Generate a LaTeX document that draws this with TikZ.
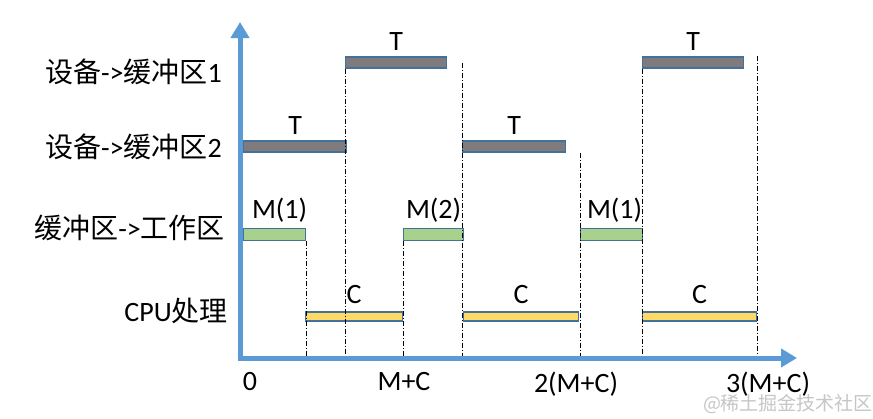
\documentclass[tikz,border=0pt]{standalone}
\usepackage{fontspec}
\setmainfont{Carlito}
\newfontfamily\cjk{Noto Sans CJK SC}
\usepackage{tikz}
\usepackage{xcolor}
\usetikzlibrary{arrows.meta, positioning}
\definecolor{axisblue}{RGB}{91,155,213}
\definecolor{barline}{RGB}{65,113,156}
\definecolor{bargray}{RGB}{127,122,124}
\definecolor{bargreen}{RGB}{169,209,142}
\definecolor{baryellow}{RGB}{255,217,102}
\newcommand{\zh}[1]{{\cjk\fontsize{28}{30}\selectfont #1}}

\begin{document}
\begin{tikzpicture}[x=1pt, y=-1pt,
    txt/.style={font=\fontsize{28}{30}\selectfont, inner sep=0pt},
    bar/.style={draw=barline, line width=1.2pt, inner sep=0pt, anchor=west},
    devbar/.style={bar, fill=bargray, minimum height=11pt},
    movbar/.style={bar, fill=bargreen, minimum height=12pt},
    cpubar/.style={bar, fill=baryellow, minimum height=9pt},
    guide/.style={black, line width=0.8pt, dash pattern=on 5pt off 2pt on 1pt off 2pt},
    axis/.style={axisblue, line width=5pt, {Triangle[length=16pt,width=18pt]}-{Triangle[length=16pt,width=18pt]}}]
    \useasboundingbox (0,0) rectangle (873,418);
    \fill[white] (0,0) rectangle (873,418);

    % row labels
    \node[txt, anchor=east] (r1) at (222,72) {\zh{设备}->\zh{缓冲区}1};
    \node[txt, anchor=east] (r2) at (222,147) {\zh{设备}->\zh{缓冲区}2};
    \node[txt, anchor=east] (r3) at (225,228) {\zh{缓冲区}->\zh{工作区}};
    \node[txt, anchor=east] (r4) at (228,311) {CPU\zh{处理}};

    % device -> buffer 1
    \node[devbar, minimum width=101pt] (d1a) at (345,62.5) {};
    \node[devbar, minimum width=101pt] (d1b) at (642,62.5) {};
    % device -> buffer 2
    \node[devbar, minimum width=103pt] (d2a) at (243,146.5) {};
    \node[devbar, minimum width=103pt] (d2b) at (462,146.5) {};
    % buffer -> work area
    \node[movbar, minimum width=62pt] (w1) at (243,234.5) {};
    \node[movbar, minimum width=60pt] (w2) at (403,234.5) {};
    \node[movbar, minimum width=62pt] (w3) at (580,234.5) {};
    % cpu
    \node[cpubar, minimum width=97pt] (c1) at (305,316.5) {};
    \node[cpubar, minimum width=115pt] (c2) at (463,316.5) {};
    \node[cpubar, minimum width=114pt] (c3) at (642,316.5) {};

    \foreach \b in {d1a,d1b,d2a,d2b}
        \node[txt, above=6pt of \b] (t-\b) {T};
    \node[txt, above=5pt of w1, xshift=5pt] (m-w1) {M(1)};
    \node[txt, above=5pt of w2] (m-w2) {M(2)};
    \node[txt, above=5pt of w3, xshift=3pt] (m-w3) {M(1)};
    \foreach \b in {c1,c2,c3}
        \node[txt, above=8pt of \b] (k-\b) {C};

    \coordinate (o) at (240,358);
    \coordinate (ytip) at (240,22);
    \coordinate (xtip) at (797,358);

    % guide lines
    \draw[guide] (w1.south east) -- (w1.south east |- o);
    \draw[guide] (d1a.south west) -- (d1a.south west |- o);
    \draw[guide] (w2.south west) -- (w2.south west |- o);
    \draw[guide] (d2b.west |- d1a.west) -- (d2b.west |- o);
    \draw[guide] (w3.west |- d2b.south) -- (w3.west |- o);
    \draw[guide] (d1b.south west) -- (d1b.south west |- o);
    \draw[guide] (c3.east |- d1b.north) -- (c3.east |- o);

    % axes
    \draw[axis] (ytip) -- (o) -- (xtip);

    \node[txt] (x0) at (250,382) {0};
    \node[txt] (x1) at (404,382) {M+C};
    \node[txt] (x2) at (576,384) {2(M+C)};
    \node[txt] (x3) at (768,384) {3(M+C)};

    \node[text=gray!45, inner sep=0pt] (wm) at (788,404)
        {\cjk\fontsize{19}{20}\selectfont @稀土掘金技术社区};
\end{tikzpicture}
\end{document}
